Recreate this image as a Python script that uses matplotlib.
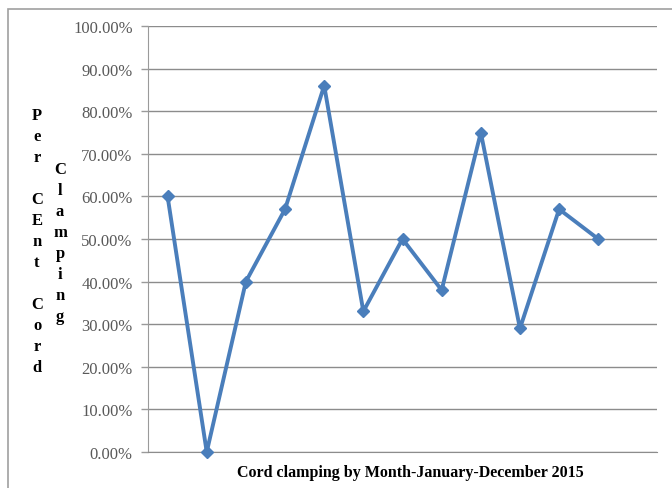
import matplotlib.pyplot as plt
from matplotlib.patches import Rectangle
from matplotlib.ticker import PercentFormatter

# cord clamping rate per month, Jan-Dec 2015
months = ['Jan', 'Feb', 'Mar', 'Apr', 'May', 'Jun',
          'Jul', 'Aug', 'Sep', 'Oct', 'Nov', 'Dec']
perc = [60, 0, 40, 57, 86, 33, 50, 38, 75, 29, 57, 50]
yticks = list(range(0, 101, 10))

W, H = 672, 489
fig = plt.figure(figsize=(W / 100, H / 100), dpi=100)
ax = fig.add_axes([148 / W, 1 - 453 / H, (657 - 148) / W, (453 - 27) / H])

ax.plot(range(len(months)), perc, color='#4A7EBB', lw=2.8,
        marker='D', ms=6.5, mec='#4A7EBB', mfc='#4A7EBB', clip_on=False,
        zorder=3)

# Excel leaves an empty slot on the right
ax.set_xlim(-0.5, len(months) + 0.5)
ax.set_ylim(0, 100)
ax.set_yticks(yticks)
ax.yaxis.set_major_formatter(PercentFormatter(decimals=2))
ax.grid(axis='y', color='#8C8C8C', lw=1.0)
ax.set_axisbelow(True)
ax.set_xticks([])

for s in ['top', 'right']:
    ax.spines[s].set_visible(False)
ax.spines['left'].set_color('#9A9A9A')
ax.spines['bottom'].set_color('#8C8C8C')
ax.tick_params(axis='y', length=5, color='#9A9A9A', width=1, pad=6,
               labelsize=12, labelcolor='#595959')
for lab in ax.get_yticklabels():
    lab.set_family('Liberation Serif')

ax.set_xlabel('Cord clamping by Month-January-December 2015',
              family='Liberation Serif', fontweight='bold', fontsize=11.5)
ax.xaxis.set_label_coords(0.516, -0.046, transform=ax.transAxes)
ax.xaxis.label.set_va('center')

# vertical stacked y label, one letter per line
def stack(text, x, y0, step=21):
    for i, ch in enumerate(text):
        if ch != ' ':
            fig.text(x / W, 1 - (y0 + i * step) / H, ch, ha='center',
                     va='center', family='Liberation Serif',
                     fontweight='bold', fontsize=12)

stack('Per CEnt Cord', 37, 116)
stack('Clamping', 60, 170)

# chart area border
fig.patches.append(Rectangle((8 / W, -0.2), 1.2, 1.2 - 10 / H,
                             transform=fig.transFigure, fill=False,
                             edgecolor='#A0A0A0', lw=1.2))

fig.savefig('out.png', dpi=100)
